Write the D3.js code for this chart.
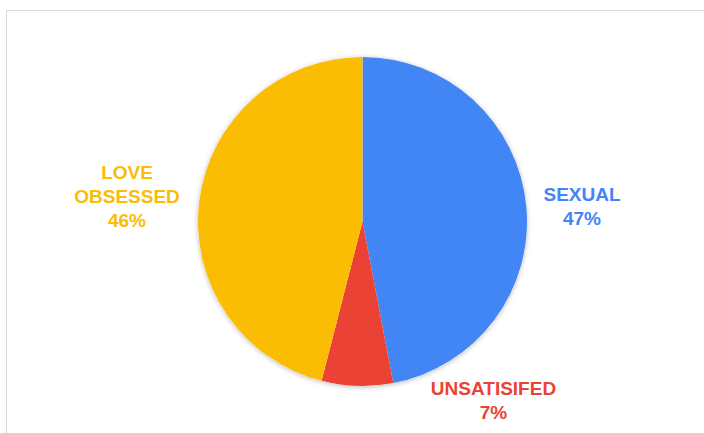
<!DOCTYPE html>
<html>
<head>
<meta charset="utf-8">
<script src="https://cdn.jsdelivr.net/npm/d3@7"></script>
<style>
  html, body { margin: 0; padding: 0; background: #fff; }
  svg { display: block; }
</style>
</head>
<body>
<svg id="chart" width="704" height="433"></svg>
<script>
// Slice data, in drawing order (clockwise from 12 o'clock)
const categories = ["SEXUAL", "UNSATISIFED", "LOVE OBSESSED"];
const values = [47, 7, 46];
const colors = ["#4285F4", "#EA4335", "#FBBC04"];
// Label lines shown next to each slice
const labelLines = [["SEXUAL"], ["UNSATISIFED"], ["LOVE", "OBSESSED"]];

const W = 704, H = 433;
const cx = 362.5, cy = 221.5, R = 164.5;

// Where each label block's first baseline sits, relative to the pie centre
const labelOffset = {
  "SEXUAL": [219.5, -21],
  "UNSATISIFED": [131, 173.5],
  "LOVE OBSESSED": [-235.5, -42.3]
};

const svg = d3.select("#chart");

// Chart frame (top and left edges visible)
svg.append("rect")
  .attr("x", 6.5).attr("y", 10.5)
  .attr("width", W + 10).attr("height", H + 10)
  .attr("fill", "none")
  .attr("stroke", "#d9d9d9")
  .attr("stroke-width", 1);

// Soft shadow under the pie
const defs = svg.append("defs");
const f = defs.append("filter").attr("id", "pieShadow")
  .attr("x", "-10%").attr("y", "-10%").attr("width", "120%").attr("height", "120%");
f.append("feDropShadow")
  .attr("dx", 0).attr("dy", 1)
  .attr("stdDeviation", 2.5)
  .attr("flood-color", "#000")
  .attr("flood-opacity", 0.28);

const data = categories.map((c, i) => ({ name: c, value: values[i], color: colors[i], lines: labelLines[i] }));

const pie = d3.pie().value(d => d.value).sort(null);
const arc = d3.arc().innerRadius(0).outerRadius(R);
const arcs = pie(data);

const g = svg.append("g").attr("transform", `translate(${cx},${cy})`);

g.append("circle").attr("r", R).attr("fill", "#fff").attr("filter", "url(#pieShadow)");

g.selectAll("path.slice")
  .data(arcs)
  .enter().append("path")
  .attr("class", "slice")
  .attr("d", arc)
  .attr("fill", d => d.data.color);

const lineH = 24;
const fontSize = 19;

arcs.forEach(a => {
  const [lx, ly] = labelOffset[a.data.name];
  const lines = a.data.lines.concat([a.data.value + "%"]);
  const t = g.append("text")
    .attr("text-anchor", "middle")
    .attr("font-family", "Liberation Sans, Arial, sans-serif")
    .attr("font-weight", "bold")
    .attr("font-size", fontSize)
    .attr("fill", a.data.color);
  lines.forEach((s, i) => {
    t.append("tspan")
      .attr("x", lx)
      .attr("y", ly + i * lineH)
      .text(s);
  });
});
</script>
</body>
</html>
